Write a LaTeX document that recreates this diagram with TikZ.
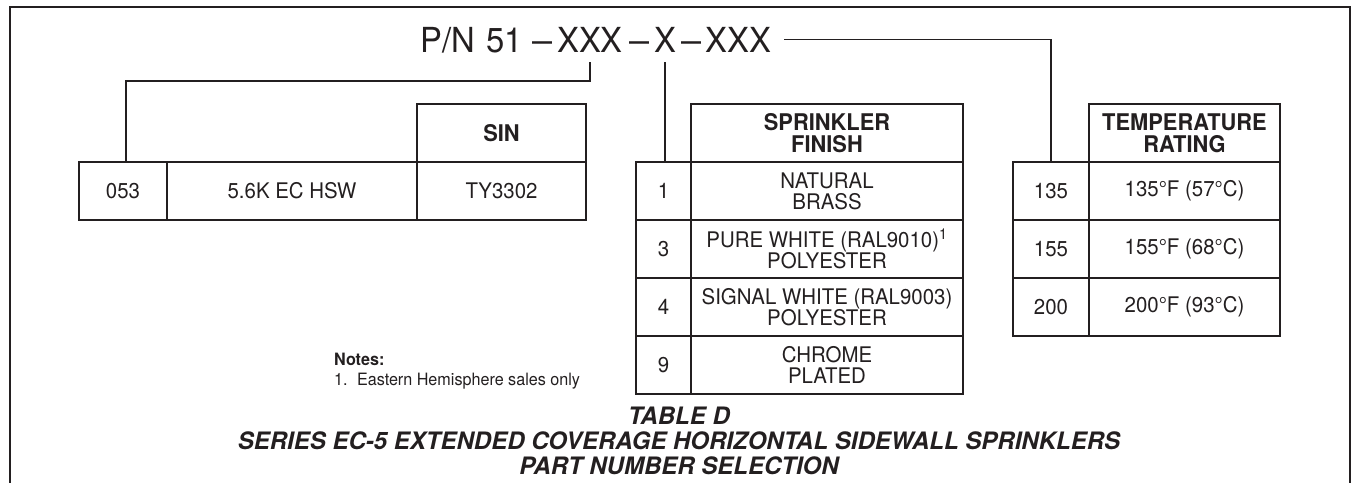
\documentclass[tikz,border=0pt]{standalone}
\usepackage{fontspec}
\setmainfont{TeX Gyre Heros}[FakeStretch=0.95]
\newfontfamily\capfont{TeX Gyre Heros}
\usepackage{graphicx}
\usepackage{tikz}
\usetikzlibrary{positioning}
\definecolor{inkdark}{RGB}{35,31,32}

\begin{document}
\begin{tikzpicture}[x=1pt, y=-1pt, inkdark,
  cell/.style={rectangle, draw, line width=1.6pt, inner sep=0pt, outer sep=0pt,
    minimum height=58pt, align=center,
    font=\fontsize{21.5pt}{21pt}\selectfont},
  headcell/.style={cell, font=\bfseries\fontsize{23pt}{22pt}\selectfont},
  pnpart/.style={inner sep=0pt, outer sep=0pt, anchor=base,
    font=\fontsize{34.5pt}{36pt}\selectfont},
  link/.style={line width=1.5pt}]
  \useasboundingbox (0,0) rectangle (1351,482);
  % frame, open at the bottom
  \draw[line width=2pt] (9.5,490) |- (1349.5,6.5) -- (1349.5,490);

  % part number
  \node[pnpart] (pnhead) at (471.5,52) {P/N\,\,51};
  \node[pnpart] (dashA) at (543,52) {\scalebox{1.1}[1]{--}};
  \node[pnpart] (pnsize) at (590,52) {XXX};
  \node[pnpart] (dashB) at (640,52) {\scalebox{1.1}[1]{--}};
  \node[pnpart] (pnfinish) at (665,52) {X};
  \node[pnpart] (dashC) at (692,52) {\scalebox{1.1}[1]{--}};
  \node[pnpart] (pntemp) at (738.5,52) {XXX};

  % model table
  \node[cell, minimum width=88pt, anchor=north west] (c053) at (79,162) {053};
  \node[cell, minimum width=250pt, right=0pt of c053] (cmodel) {5.6K EC HSW};
  \node[cell, minimum width=169pt, right=0pt of cmodel] (csin) {TY3302};
  \node[headcell, minimum width=169pt, above=0pt of csin] (sinhead) {SIN};

  % finish table
  \node[cell, minimum width=55pt, anchor=north west] (fin1) at (636,162) {1};
  \node[cell, minimum width=272pt, right=0pt of fin1] (fdesc1) {NATURAL\\BRASS};
  \node[headcell, minimum width=272pt, above=0pt of fdesc1] (finhead) {SPRINKLER\\FINISH};
  \node[cell, minimum width=55pt, below=0pt of fin1] (fin3) {3};
  \node[cell, minimum width=272pt, right=0pt of fin3] (fdesc3) {PURE WHITE (RAL9010)\textsuperscript{1}\\POLYESTER};
  \node[cell, minimum width=55pt, below=0pt of fin3] (fin4) {4};
  \node[cell, minimum width=272pt, right=0pt of fin4] (fdesc4) {SIGNAL WHITE (RAL9003)\\POLYESTER};
  \node[cell, minimum width=55pt, below=0pt of fin4] (fin9) {9};
  \node[cell, minimum width=272pt, right=0pt of fin9] (fdesc9) {CHROME\\PLATED};

  % temperature table
  \node[cell, minimum width=76pt, anchor=north west] (t135) at (1013,162) {135};
  \node[cell, minimum width=191pt, right=0pt of t135] (tdesc135) {135°F (57°C)};
  \node[headcell, minimum width=191pt, above=0pt of tdesc135] (temphead) {TEMPERATURE\\RATING};
  \node[cell, minimum width=76pt, below=0pt of t135] (t155) {155};
  \node[cell, minimum width=191pt, right=0pt of t155] (tdesc155) {155°F (68°C)};
  \node[cell, minimum width=76pt, below=0pt of t155] (t200) {200};
  \node[cell, minimum width=191pt, right=0pt of t200] (tdesc200) {200°F (93°C)};

  % links from the part number
  \draw[link] ([yshift=-10pt]pnsize.south) -- ++(0,19) -| ([xshift=3pt]c053.north);
  \draw[link] ([yshift=-10pt]pnfinish.south) -- (pnfinish.south |- fin1.north);
  \draw[link] ([xshift=13pt]pntemp.east) -| (t135.north);

  % notes and caption
  \node[anchor=north west, align=left, inner sep=0pt,
    font=\fontsize{17pt}{20pt}\selectfont] (notes) at (334,353)
    {\textbf{Notes:}\\1.\hspace{0.55em}Eastern Hemisphere sales only};
  \node[anchor=north, align=center, inner sep=0pt,
    font=\capfont\bfseries\itshape\fontsize{24pt}{25pt}\selectfont] (caption) at (679,407)
    {TABLE D\\SERIES EC-5 EXTENDED COVERAGE HORIZONTAL SIDEWALL SPRINKLERS\\PART NUMBER SELECTION};
\end{tikzpicture}
\end{document}
